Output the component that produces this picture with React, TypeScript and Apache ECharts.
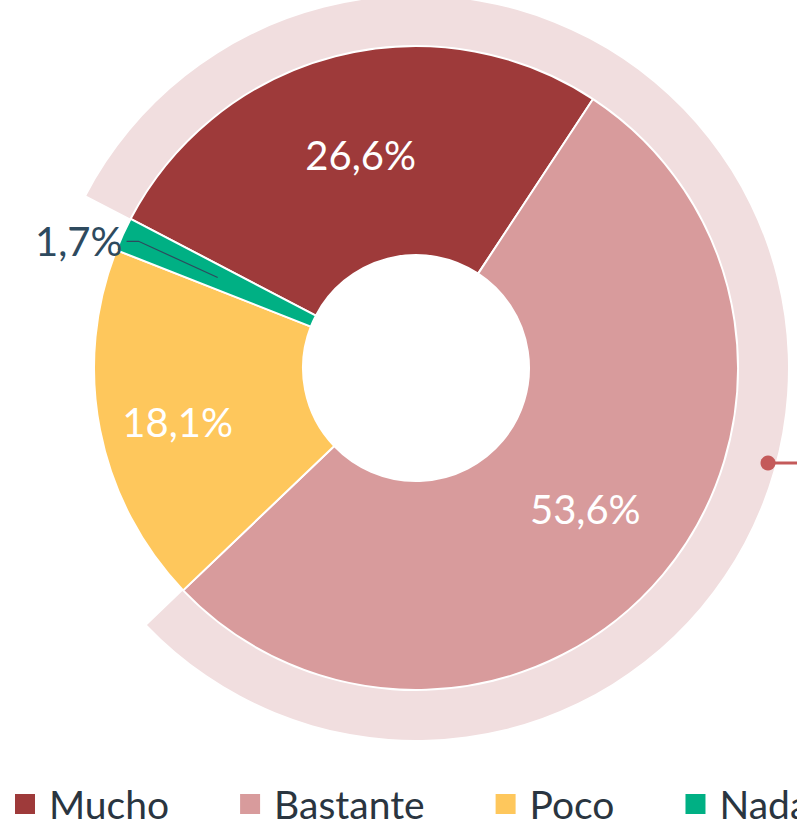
import React, { useEffect, useRef } from "react";
import * as echarts from "echarts";

const categories = ["Mucho", "Bastante", "Poco", "Nada"];
const values = [26.6, 53.6, 18.1, 1.7];
const colors = ["#9E3A3A", "#D89B9C", "#FEC75C", "#00B084"];
const bandColor = "#F1DEDF";

const FONT = "Lato";
const fmt = (v: number) => v.toFixed(1).replace(".", ",") + "%";

export default function App() {
  const ref = useRef<HTMLDivElement>(null);
  useEffect(() => {
    if (!ref.current) return;
    const chart = echarts.init(ref.current, null, { renderer: "svg" });
    const center = [416, 368];
    const startAngle = 152.4;
    const bandValue = values[0] + values[1];
    const restValue = values[2] + values[3];
    const mainData = categories.map((c, i) => ({
      name: c,
      value: values[i],
      itemStyle: { color: colors[i] },
      label: { show: c !== "Nada" },
    }));
    const helperData = categories.map((c, i) => ({
      name: c,
      value: values[i],
      label: { show: c === "Nada" },
      labelLine: { show: c === "Nada" },
    }));
    chart.setOption({
      animation: false,
      legend: {
        data: categories,
        left: 13,
        top: 784,
        width: 1200,
        padding: 0,
        orient: "horizontal",
        icon: "rect",
        itemWidth: 22,
        itemHeight: 22,
        itemGap: 69,
        selectedMode: false,
        textStyle: {
          fontFamily: FONT,
          fontSize: 39,
          lineHeight: 40,
          color: "#2A3540",
          padding: [0, 0, 0, 8],
        },
      },
      series: [
        {
          type: "pie",
          name: "main",
          center,
          radius: [113, 322],
          startAngle,
          clockwise: true,
          avoidLabelOverlap: false,
          silent: true,
          itemStyle: { borderColor: "#ffffff", borderWidth: 2 },
          label: {
            position: "inside",
            fontFamily: FONT,
            fontSize: 40,
            color: "#ffffff",
            formatter: (p: any) => fmt(p.value),
          },
          labelLine: { show: false },
          labelLayout: (p: any) => (p.dataIndex === 2 ? { dx: -22, dy: 12 } : {}),
          data: mainData,
        },
        {
          type: "pie",
          name: "band",
          center,
          radius: [323, 372],
          startAngle,
          clockwise: true,
          silent: true,
          label: { show: false },
          labelLine: { show: false },
          itemStyle: { borderColor: "#ffffff", borderWidth: 0 },
          data: [
            { name: "band", value: bandValue, itemStyle: { color: bandColor } },
            { name: "rest", value: restValue, itemStyle: { color: "rgba(0,0,0,0)" } },
          ],
        },
        {
          type: "pie",
          name: "helper",
          center,
          radius: [0, 218],
          startAngle,
          clockwise: true,
          silent: true,
          z: 5,
          avoidLabelOverlap: false,
          itemStyle: { color: "rgba(0,0,0,0)" },
          label: {
            position: "outside",
            fontFamily: FONT,
            fontSize: 40,
            color: "#2E4A5E",
            distanceToLabelLine: 4,
            formatter: (p: any) => fmt(p.value),
          },
          labelLine: {
            length: 87,
            length2: 12,
            lineStyle: { color: "#2E4A5E", width: 1.2 },
          },
          data: helperData,
        },
      ],
      graphic: [
        {
          type: "line",
          shape: { x1: 768, y1: 463, x2: 800, y2: 463 },
          style: { stroke: "#C45A5A", lineWidth: 3 },
          z: 10,
        },
        {
          type: "circle",
          shape: { cx: 768, cy: 463, r: 7.5 },
          style: { fill: "#C45A5A" },
          z: 10,
        },
      ],
    });
    return () => chart.dispose();
  }, []);
  return (
    <div
      ref={ref}
      style={{ position: "absolute", left: 0, top: 0, width: 797, height: 827, background: "#ffffff" }}
    />
  );
}
